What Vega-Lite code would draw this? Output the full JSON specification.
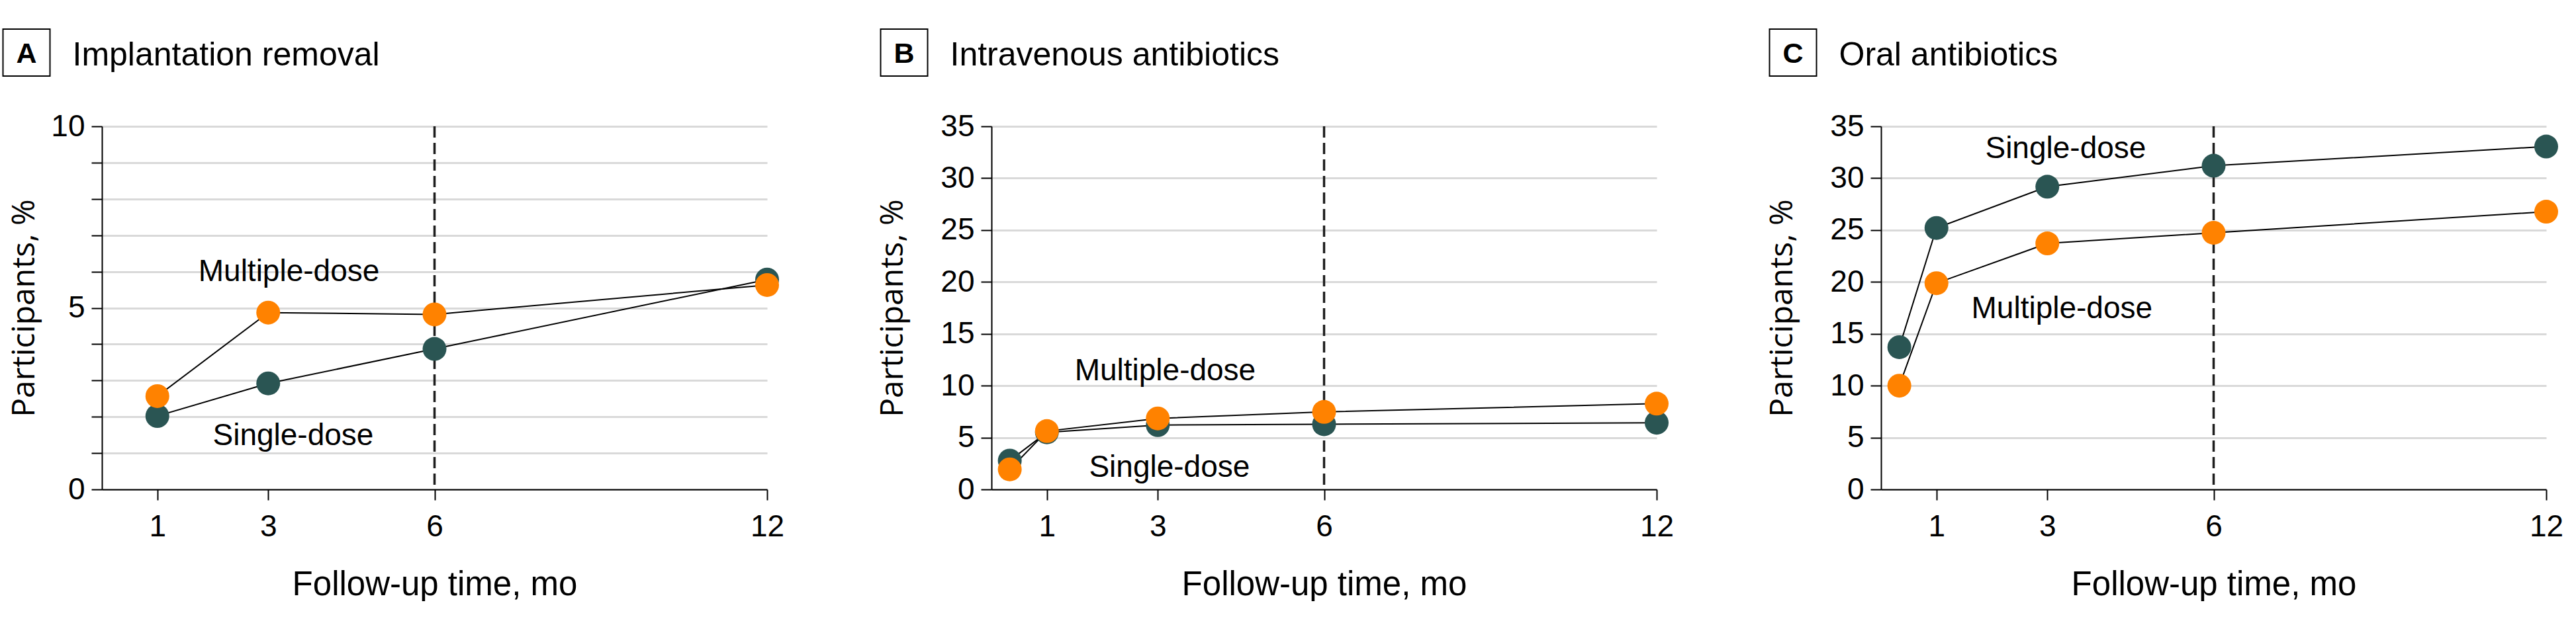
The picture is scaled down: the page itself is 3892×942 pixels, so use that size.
{
  "$schema": "https://vega.github.io/schema/vega-lite/v6.json",
  "background": "white",
  "padding": {"left": 0, "top": 40, "right": 0, "bottom": 0},
  "config": {
    "view": {"stroke": null},
    "font": "Liberation Sans",
    "axis": {
      "domainColor": "black", "domainWidth": 2,
      "tickColor": "black", "tickWidth": 2, "tickSize": 16,
      "labelFont": "Liberation Sans", "labelFontSize": 46, "labelColor": "black",
      "labelFlush": false, "labelOverlap": false,
      "titleColor": "black", "titleFontWeight": "normal",
      "gridColor": "#d9d9d9", "gridWidth": 3
    },
    "axisX": {"grid": false, "labelPadding": 18, "titleFont": "Liberation Sans", "titleFontSize": 51, "titlePadding": 40, "format": "d"},
    "axisY": {"grid": true, "labelPadding": 10, "titleFont": "Open Sans", "titleFontSize": 48, "titlePadding": 47},
    "text": {"color": "black"}
  },
  "datasets": {
    "pts": [
      {"panel": "A", "group": "Single-dose", "month": 1, "pct": 2.02},
      {"panel": "A", "group": "Single-dose", "month": 3, "pct": 2.92},
      {"panel": "A", "group": "Single-dose", "month": 6, "pct": 3.87},
      {"panel": "A", "group": "Single-dose", "month": 12, "pct": 5.78},
      {"panel": "A", "group": "Multiple-dose", "month": 1, "pct": 2.57},
      {"panel": "A", "group": "Multiple-dose", "month": 3, "pct": 4.87},
      {"panel": "A", "group": "Multiple-dose", "month": 6, "pct": 4.82},
      {"panel": "A", "group": "Multiple-dose", "month": 12, "pct": 5.63},
      {"panel": "B", "group": "Single-dose", "month": 0.33, "pct": 2.78},
      {"panel": "B", "group": "Single-dose", "month": 1, "pct": 5.5},
      {"panel": "B", "group": "Single-dose", "month": 3, "pct": 6.2},
      {"panel": "B", "group": "Single-dose", "month": 6, "pct": 6.28},
      {"panel": "B", "group": "Single-dose", "month": 12, "pct": 6.43},
      {"panel": "B", "group": "Multiple-dose", "month": 0.33, "pct": 1.93},
      {"panel": "B", "group": "Multiple-dose", "month": 1, "pct": 5.62},
      {"panel": "B", "group": "Multiple-dose", "month": 3, "pct": 6.84},
      {"panel": "B", "group": "Multiple-dose", "month": 6, "pct": 7.47},
      {"panel": "B", "group": "Multiple-dose", "month": 12, "pct": 8.27},
      {"panel": "C", "group": "Single-dose", "month": 0.33, "pct": 13.71},
      {"panel": "C", "group": "Single-dose", "month": 1, "pct": 25.2},
      {"panel": "C", "group": "Single-dose", "month": 3, "pct": 29.18},
      {"panel": "C", "group": "Single-dose", "month": 6, "pct": 31.2},
      {"panel": "C", "group": "Single-dose", "month": 12, "pct": 33.05},
      {"panel": "C", "group": "Multiple-dose", "month": 0.33, "pct": 10.0},
      {"panel": "C", "group": "Multiple-dose", "month": 1, "pct": 19.88},
      {"panel": "C", "group": "Multiple-dose", "month": 3, "pct": 23.71},
      {"panel": "C", "group": "Multiple-dose", "month": 6, "pct": 24.74},
      {"panel": "C", "group": "Multiple-dose", "month": 12, "pct": 26.77}
    ],
    "notes": [
      {"panel": "A", "label": "Multiple-dose", "month": 1.74, "pct": 5.73},
      {"panel": "A", "label": "Single-dose", "month": 2.0, "pct": 1.22},
      {"panel": "B", "label": "Multiple-dose", "month": 1.5, "pct": 10.5},
      {"panel": "B", "label": "Single-dose", "month": 1.76, "pct": 1.2},
      {"panel": "C", "label": "Single-dose", "month": 1.88, "pct": 31.96},
      {"panel": "C", "label": "Multiple-dose", "month": 1.63, "pct": 16.48}
    ],
    "heads": [
      {"panel": "A", "title": "Implantation removal"},
      {"panel": "B", "title": "Intravenous antibiotics"},
      {"panel": "C", "title": "Oral antibiotics"}
    ],
    "ref": [{"month": 6}]
  },
  "spacing": 140,
  "resolve": {"scale": {"x": "independent", "y": "independent"}},
  "hconcat": [
    {
      "concat": [
        {
          "width": 1, "height": 71,
          "data": {"name": "heads"},
          "transform": [{"filter": "datum.panel === 'A'"}],
          "layer": [
            {"mark": {"type": "point", "shape": "square", "size": 5041, "filled": false, "stroke": "black", "strokeWidth": 2, "opacity": 1, "xOffset": -114.5}, "encoding": {}},
            {"mark": {"type": "text", "fontSize": 43, "fontWeight": "bold", "baseline": "alphabetic", "dx": -114.5, "dy": 15.5}, "encoding": {"text": {"field": "panel"}}},
            {"mark": {"type": "text", "fontSize": 50, "align": "left", "baseline": "alphabetic", "dx": -45, "dy": 19}, "encoding": {"text": {"field": "title"}}}
          ]
        },
        {
          "width": 1005, "height": 549,
          "layer": [
            {"data": {"name": "ref"}, "mark": {"type": "rule", "strokeDash": [17, 8], "strokeWidth": 3.5, "color": "#1e1e1e"},
             "encoding": {"x": {"field": "month", "type": "quantitative", "scale": {"domain": [0, 12], "nice": false}}}},
            {"data": {"name": "pts"}, "transform": [{"filter": "datum.panel === 'A'"}],
             "mark": {"type": "line", "color": "black", "strokeWidth": 2},
             "encoding": {
               "x": {"field": "month", "type": "quantitative", "scale": {"domain": [0, 12], "nice": false},
                     "axis": {"values": [1, 3, 6, 12], "title": "Follow-up time, mo"}},
               "y": {"field": "pct", "type": "quantitative", "scale": {"domain": [0, 10], "nice": false},
                     "axis": {"values": [0, 1, 2, 3, 4, 5, 6, 7, 8, 9, 10], "labelExpr": "datum.value % 5 === 0 ? datum.label : ''", "title": "Participants, %", "titlePadding": 15}},
               "detail": {"field": "group"}
             }},
            {"data": {"name": "pts"}, "transform": [{"filter": "datum.panel === 'A'"}],
             "mark": {"type": "point", "filled": true, "opacity": 1, "size": 1296, "strokeWidth": 0},
             "encoding": {
               "x": {"field": "month", "type": "quantitative"},
               "y": {"field": "pct", "type": "quantitative"},
               "color": {"field": "group", "type": "nominal", "scale": {"domain": ["Single-dose", "Multiple-dose"], "range": ["#2a5553", "#ff8200"]}, "legend": null}
             }},
            {"data": {"name": "notes"}, "transform": [{"filter": "datum.panel === 'A'"}],
             "mark": {"type": "text", "align": "left", "baseline": "alphabetic", "fontSize": 46},
             "encoding": {
               "x": {"field": "month", "type": "quantitative"},
               "y": {"field": "pct", "type": "quantitative"},
               "text": {"field": "label"}
             }}
          ]
        }
      ],
      "columns": 1, "align": "none", "spacing": 49
    },
    {
      "concat": [
        {
          "width": 1, "height": 71,
          "data": {"name": "heads"},
          "transform": [{"filter": "datum.panel === 'B'"}],
          "layer": [
            {"mark": {"type": "point", "shape": "square", "size": 5041, "filled": false, "stroke": "black", "strokeWidth": 2, "opacity": 1, "xOffset": -132.5}, "encoding": {}},
            {"mark": {"type": "text", "fontSize": 43, "fontWeight": "bold", "baseline": "alphabetic", "dx": -132.5, "dy": 15.5}, "encoding": {"text": {"field": "panel"}}},
            {"mark": {"type": "text", "fontSize": 50, "align": "left", "baseline": "alphabetic", "dx": -63, "dy": 19}, "encoding": {"text": {"field": "title"}}}
          ]
        },
        {
          "width": 1005, "height": 549,
          "layer": [
            {"data": {"name": "ref"}, "mark": {"type": "rule", "strokeDash": [17, 8], "strokeWidth": 3.5, "color": "#1e1e1e"},
             "encoding": {"x": {"field": "month", "type": "quantitative", "scale": {"domain": [0, 12], "nice": false}}}},
            {"data": {"name": "pts"}, "transform": [{"filter": "datum.panel === 'B'"}],
             "mark": {"type": "line", "color": "black", "strokeWidth": 2},
             "encoding": {
               "x": {"field": "month", "type": "quantitative", "scale": {"domain": [0, 12], "nice": false},
                     "axis": {"values": [1, 3, 6, 12], "title": "Follow-up time, mo"}},
               "y": {"field": "pct", "type": "quantitative", "scale": {"domain": [0, 35], "nice": false},
                     "axis": {"values": [0, 5, 10, 15, 20, 25, 30, 35], "title": "Participants, %"}},
               "detail": {"field": "group"}
             }},
            {"data": {"name": "pts"}, "transform": [{"filter": "datum.panel === 'B'"}],
             "mark": {"type": "point", "filled": true, "opacity": 1, "size": 1296, "strokeWidth": 0},
             "encoding": {
               "x": {"field": "month", "type": "quantitative"},
               "y": {"field": "pct", "type": "quantitative"},
               "color": {"field": "group", "type": "nominal", "scale": {"domain": ["Single-dose", "Multiple-dose"], "range": ["#2a5553", "#ff8200"]}, "legend": null}
             }},
            {"data": {"name": "notes"}, "transform": [{"filter": "datum.panel === 'B'"}],
             "mark": {"type": "text", "align": "left", "baseline": "alphabetic", "fontSize": 46},
             "encoding": {
               "x": {"field": "month", "type": "quantitative"},
               "y": {"field": "pct", "type": "quantitative"},
               "text": {"field": "label"}
             }}
          ]
        }
      ],
      "columns": 1, "align": "none", "spacing": 49
    },
    {
      "concat": [
        {
          "width": 1, "height": 71,
          "data": {"name": "heads"},
          "transform": [{"filter": "datum.panel === 'C'"}],
          "layer": [
            {"mark": {"type": "point", "shape": "square", "size": 5041, "filled": false, "stroke": "black", "strokeWidth": 2, "opacity": 1, "xOffset": -133.5}, "encoding": {}},
            {"mark": {"type": "text", "fontSize": 43, "fontWeight": "bold", "baseline": "alphabetic", "dx": -133.5, "dy": 15.5}, "encoding": {"text": {"field": "panel"}}},
            {"mark": {"type": "text", "fontSize": 50, "align": "left", "baseline": "alphabetic", "dx": -64, "dy": 19}, "encoding": {"text": {"field": "title"}}}
          ]
        },
        {
          "width": 1005, "height": 549,
          "layer": [
            {"data": {"name": "ref"}, "mark": {"type": "rule", "strokeDash": [17, 8], "strokeWidth": 3.5, "color": "#1e1e1e"},
             "encoding": {"x": {"field": "month", "type": "quantitative", "scale": {"domain": [0, 12], "nice": false}}}},
            {"data": {"name": "pts"}, "transform": [{"filter": "datum.panel === 'C'"}],
             "mark": {"type": "line", "color": "black", "strokeWidth": 2},
             "encoding": {
               "x": {"field": "month", "type": "quantitative", "scale": {"domain": [0, 12], "nice": false},
                     "axis": {"values": [1, 3, 6, 12], "title": "Follow-up time, mo"}},
               "y": {"field": "pct", "type": "quantitative", "scale": {"domain": [0, 35], "nice": false},
                     "axis": {"values": [0, 5, 10, 15, 20, 25, 30, 35], "title": "Participants, %"}},
               "detail": {"field": "group"}
             }},
            {"data": {"name": "pts"}, "transform": [{"filter": "datum.panel === 'C'"}],
             "mark": {"type": "point", "filled": true, "opacity": 1, "size": 1296, "strokeWidth": 0},
             "encoding": {
               "x": {"field": "month", "type": "quantitative"},
               "y": {"field": "pct", "type": "quantitative"},
               "color": {"field": "group", "type": "nominal", "scale": {"domain": ["Single-dose", "Multiple-dose"], "range": ["#2a5553", "#ff8200"]}, "legend": null}
             }},
            {"data": {"name": "notes"}, "transform": [{"filter": "datum.panel === 'C'"}],
             "mark": {"type": "text", "align": "left", "baseline": "alphabetic", "fontSize": 46},
             "encoding": {
               "x": {"field": "month", "type": "quantitative"},
               "y": {"field": "pct", "type": "quantitative"},
               "text": {"field": "label"}
             }}
          ]
        }
      ],
      "columns": 1, "align": "none", "spacing": 49
    }
  ]
}
